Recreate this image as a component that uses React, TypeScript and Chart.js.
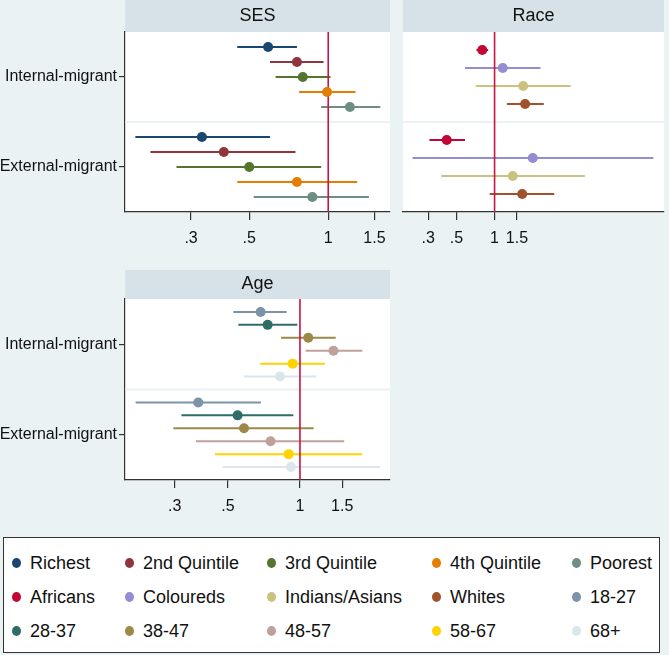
import React, { useEffect, useRef } from "react";
import { Chart, registerables } from "chart.js";

Chart.register(...registerables);

const FONT = "'Liberation Sans', Arial, Helvetica, sans-serif";
const BG = "#eaf2f3";
const HEADER = "#d6e2e8";
const AXIS = "#333333";
const REF = "#c71545";
const TEXT = "#111111";

const groupLabels = ["Internal-migrant", "External-migrant"];
const xTickValues = [0.3, 0.5, 1, 1.5];

// SES
const sesCategories = ["Richest", "2nd Quintile", "3rd Quintile", "4th Quintile", "Poorest"];
const sesColors = ["#1a476f", "#90353b", "#55752f", "#e37e00", "#6e8e84"];
const sesInternalEst = [0.59, 0.76, 0.8, 0.99, 1.21];
const sesInternalLo = [0.45, 0.6, 0.63, 0.775, 0.94];
const sesInternalHi = [0.76, 0.96, 1.02, 1.27, 1.58];
const sesExternalEst = [0.33, 0.4, 0.5, 0.76, 0.87];
const sesExternalLo = [0.184, 0.21, 0.264, 0.45, 0.52];
const sesExternalHi = [0.6, 0.75, 0.94, 1.29, 1.43];

// Race
const raceCategories = ["Africans", "Coloureds", "Indians/Asians", "Whites"];
const raceColors = ["#c10534", "#938dd2", "#cac27e", "#a0522d"];
const raceInternalEst = [0.8, 1.16, 1.68, 1.74];
const raceInternalLo = [0.72, 0.585, 0.71, 1.25];
const raceInternalHi = [0.89, 2.3, 3.98, 2.44];
const raceExternalEst = [0.42, 2.0, 1.39, 1.65];
const raceExternalLo = [0.307, 0.226, 0.38, 0.915];
const raceExternalHi = [0.585, 17.8, 5.14, 2.95];

// Age
const ageCategories = ["18-27", "28-37", "38-47", "48-57", "58-67", "68+"];
const ageColors = ["#7b92a8", "#2d6d66", "#9c8847", "#bfa19c", "#ffd200", "#d9e6eb"];
const ageInternalEst = [0.685, 0.733, 1.083, 1.38, 0.932, 0.825];
const ageInternalLo = [0.527, 0.553, 0.833, 1.056, 0.683, 0.585];
const ageInternalHi = [0.88, 0.975, 1.41, 1.82, 1.27, 1.17];
const ageExternalEst = [0.376, 0.549, 0.584, 0.754, 0.897, 0.917];
const ageExternalLo = [0.206, 0.32, 0.296, 0.368, 0.442, 0.475];
const ageExternalHi = [0.687, 0.938, 1.14, 1.53, 1.82, 2.16];

const legendCategories = [...sesCategories, ...raceCategories, ...ageCategories];
const legendColors = [...sesColors, ...raceColors, ...ageColors];

type PanelSpec = {
  title: string;
  categories: string[];
  colors: string[];
  intEst: number[];
  intLo: number[];
  intHi: number[];
  extEst: number[];
  extLo: number[];
  extHi: number[];
  xMin: number;
  xMax: number;
  showY: boolean;
  left: number;
  top: number;
  width: number;
  height: number;
  padTop: number;
  padLeft: number;
  padRight: number;
  headerH: number;
  axisH: number;
  yAxisW: number;
};

const fmtTick = (v: number) => (v < 1 ? String(v).replace(/^0/, "") : String(v));

const panelBgPlugin = {
  id: "panelBg",
  beforeDraw(chart: any, _args: any, opts: any) {
    const { ctx, chartArea } = chart;
    ctx.save();
    ctx.fillStyle = HEADER;
    ctx.fillRect(chartArea.left, chartArea.top - opts.headerH, chartArea.right - chartArea.left, opts.headerH);
    ctx.fillStyle = "#ffffff";
    ctx.fillRect(chartArea.left, chartArea.top, chartArea.right - chartArea.left, chartArea.bottom - chartArea.top);
    ctx.restore();
  },
};

function buildConfig(p: PanelSpec): any {
  const n = p.categories.length;
  const yMax = 2 * n + 2;
  const datasets: any[] = [];
  // separator between groups
  datasets.push({
    label: "sep",
    data: [
      { x: p.xMin, y: n + 1 },
      { x: p.xMax, y: n + 1 },
    ],
    showLine: true,
    borderColor: BG,
    borderWidth: 2,
    pointRadius: 0,
    order: 4,
  });
  // reference line at 1
  datasets.push({
    label: "ref",
    data: [
      { x: 1, y: 0 },
      { x: 1, y: yMax },
    ],
    showLine: true,
    borderColor: REF,
    borderWidth: 1.6,
    pointRadius: 0,
    order: 2,
  });
  p.categories.forEach((cat, i) => {
    const rInt = i + 1;
    const rExt = n + 2 + i;
    datasets.push({
      label: cat + " CI internal",
      data: [
        { x: p.intLo[i], y: rInt },
        { x: p.intHi[i], y: rInt },
      ],
      showLine: true,
      borderColor: p.colors[i],
      borderWidth: 2,
      pointRadius: 0,
      order: 3,
    });
    datasets.push({
      label: cat + " CI external",
      data: [
        { x: p.extLo[i], y: rExt },
        { x: p.extHi[i], y: rExt },
      ],
      showLine: true,
      borderColor: p.colors[i],
      borderWidth: 2,
      pointRadius: 0,
      order: 3,
    });
    datasets.push({
      label: cat,
      data: [
        { x: p.intEst[i], y: rInt },
        { x: p.extEst[i], y: rExt },
      ],
      showLine: false,
      backgroundColor: p.colors[i],
      borderColor: p.colors[i],
      borderWidth: 0,
      pointRadius: 5,
      order: 1,
    });
  });

  const titlePad = (p.headerH - 20) / 2;

  return {
    type: "scatter",
    data: { datasets },
    plugins: [panelBgPlugin],
    options: {
      animation: false,
      responsive: false,
      devicePixelRatio: 1,
      layout: { padding: { left: p.padLeft, right: p.padRight, top: p.padTop, bottom: 0 } },
      plugins: {
        legend: { display: false },
        tooltip: { enabled: false },
        panelBg: { headerH: p.headerH },
        title: {
          display: true,
          text: p.title,
          fullSize: false,
          color: TEXT,
          font: { family: FONT, size: 18, weight: "normal", lineHeight: "20px" },
          padding: { top: titlePad, bottom: titlePad },
        },
      },
      scales: {
        x: {
          type: "logarithmic",
          min: p.xMin,
          max: p.xMax,
          afterBuildTicks: (s: any) => {
            s.ticks = xTickValues.map((v) => ({ value: v }));
          },
          afterFit: (s: any) => {
            s.height = p.axisH;
          },
          ticks: {
            callback: (v: any) => fmtTick(Number(v)),
            autoSkip: false,
            maxRotation: 0,
            minRotation: 0,
            color: TEXT,
            padding: 9,
            font: { family: FONT, size: 16 },
          },
          grid: { display: true, drawOnChartArea: false, drawTicks: true, tickLength: 8, color: AXIS, lineWidth: 1.2 },
          border: { display: true, color: AXIS, width: 1.2 },
        },
        y: {
          type: "linear",
          display: p.showY,
          min: 0,
          max: yMax,
          reverse: true,
          afterBuildTicks: (s: any) => {
            s.ticks = [{ value: (n + 1) / 2 }, { value: n + 1 + (n + 1) / 2 }];
          },
          afterFit: (s: any) => {
            s.width = p.yAxisW;
          },
          ticks: {
            callback: (_v: any, i: number) => groupLabels[i],
            autoSkip: false,
            color: TEXT,
            padding: 2,
            font: { family: FONT, size: 16 },
          },
          grid: { display: true, drawOnChartArea: false, drawTicks: true, tickLength: 6, color: AXIS, lineWidth: 1.2 },
          border: { display: true, color: AXIS, width: 1.2 },
        },
      },
    },
  };
}

function Panel({ spec }: { spec: PanelSpec }) {
  const ref = useRef<HTMLCanvasElement | null>(null);
  useEffect(() => {
    if (!ref.current) return;
    const chart = new Chart(ref.current, buildConfig(spec));
    return () => chart.destroy();
  }, [spec]);
  return (
    <canvas
      ref={ref}
      width={spec.width}
      height={spec.height}
      style={{ position: "absolute", left: spec.left, top: spec.top, width: spec.width, height: spec.height }}
    />
  );
}

const sesSpec: PanelSpec = {
  title: "SES",
  categories: sesCategories,
  colors: sesColors,
  intEst: sesInternalEst,
  intLo: sesInternalLo,
  intHi: sesInternalHi,
  extEst: sesExternalEst,
  extLo: sesExternalLo,
  extHi: sesExternalHi,
  xMin: 0.168,
  xMax: 1.72,
  showY: true,
  left: 0,
  top: 0,
  width: 395,
  height: 255,
  padTop: 0,
  padLeft: 0,
  padRight: 5,
  headerH: 32,
  axisH: 43,
  yAxisW: 125,
};

const raceSpec: PanelSpec = {
  title: "Race",
  categories: raceCategories,
  colors: raceColors,
  intEst: raceInternalEst,
  intLo: raceInternalLo,
  intHi: raceInternalHi,
  extEst: raceExternalEst,
  extLo: raceExternalLo,
  extHi: raceExternalHi,
  xMin: 0.19,
  xMax: 21.6,
  showY: false,
  left: 398,
  top: 0,
  width: 271,
  height: 255,
  padTop: 0,
  padLeft: 5,
  padRight: 1,
  headerH: 32,
  axisH: 43,
  yAxisW: 0,
};

const ageSpec: PanelSpec = {
  title: "Age",
  categories: ageCategories,
  colors: ageColors,
  intEst: ageInternalEst,
  intLo: ageInternalLo,
  intHi: ageInternalHi,
  extEst: ageExternalEst,
  extLo: ageExternalLo,
  extHi: ageExternalHi,
  xMin: 0.186,
  xMax: 2.376,
  showY: true,
  left: 0,
  top: 262,
  width: 395,
  height: 263,
  padTop: 8,
  padLeft: 0,
  padRight: 5,
  headerH: 29,
  axisH: 45,
  yAxisW: 125,
};

const legendColX = [15, 128, 270, 435, 575];
const legendRowY = [562, 596, 630];

function Legend() {
  return (
    <div
      style={{
        position: "absolute",
        left: 3,
        top: 537,
        width: 657,
        height: 116,
        boxSizing: "border-box",
        background: "#ffffff",
        border: "1px solid #333",
      }}
    >
      {legendCategories.map((cat, i) => {
        const r = Math.floor(i / 5);
        const c = i % 5;
        const cx = legendColX[c] - 3;
        const cy = legendRowY[r] - 537;
        return (
          <div key={cat}>
            <div
              style={{
                position: "absolute",
                left: cx - 4.5,
                top: cy - 5,
                width: 9,
                height: 10,
                borderRadius: "50%",
                background: legendColors[i],
              }}
            />
            <div
              style={{
                position: "absolute",
                left: cx + 14,
                top: cy - 12,
                height: 24,
                lineHeight: "24px",
                fontFamily: FONT,
                fontSize: 18,
                color: TEXT,
                whiteSpace: "nowrap",
              }}
            >
              {cat}
            </div>
          </div>
        );
      })}
    </div>
  );
}

export default function App() {
  return (
    <div
      style={{
        position: "absolute",
        left: 0,
        top: 0,
        width: 669,
        height: 655,
        background: BG,
        overflow: "hidden",
      }}
    >
      <Panel spec={sesSpec} />
      <Panel spec={raceSpec} />
      <Panel spec={ageSpec} />
      <Legend />
    </div>
  );
}
